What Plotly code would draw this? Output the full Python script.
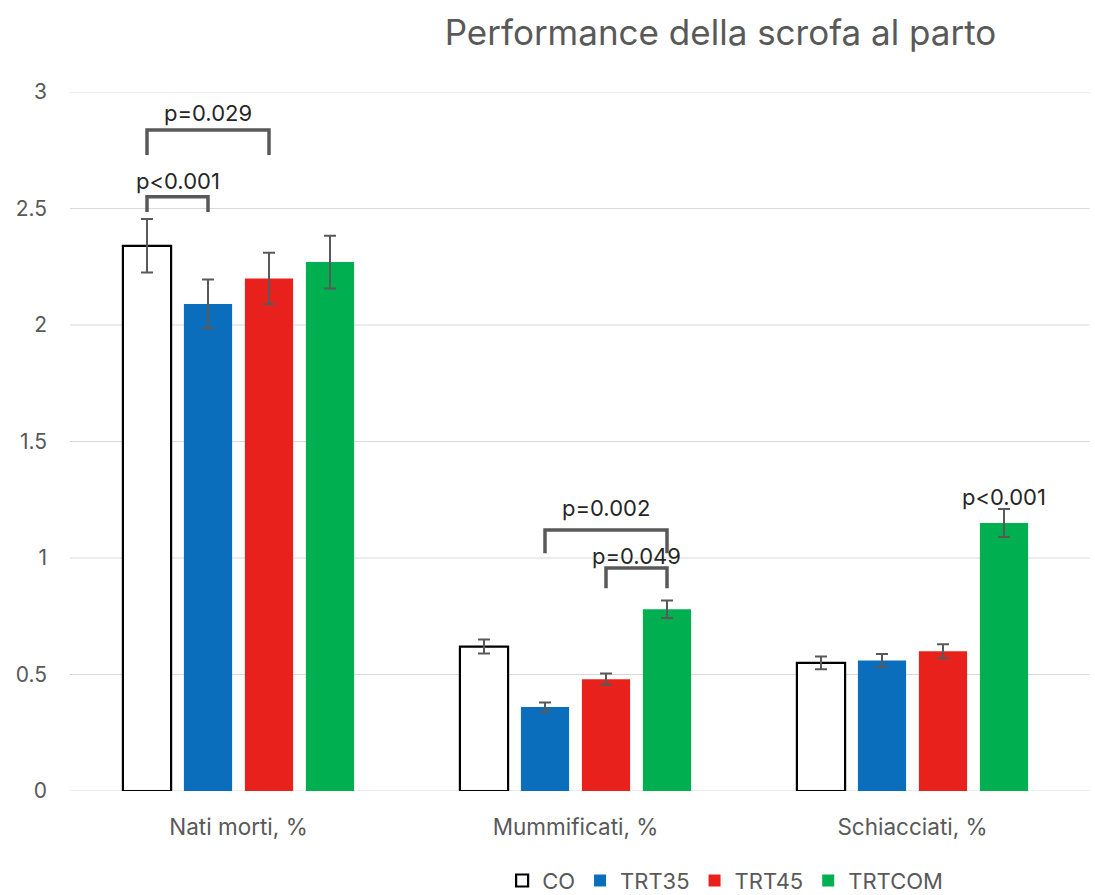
import plotly.graph_objects as go

# Categories and series
categories = ["Nati morti, %", "Mummificati, %", "Schiacciati, %"]
series_names = ["CO", "TRT35", "TRT45", "TRTCOM"]
co_values = [2.34, 0.62, 0.55]
trt35_values = [2.09, 0.36, 0.56]
trt45_values = [2.20, 0.48, 0.60]
trtcom_values = [2.27, 0.78, 1.15]

co_err = [0.115, 0.03, 0.027]
trt35_err = [0.105, 0.02, 0.028]
trt45_err = [0.11, 0.024, 0.03]
trtcom_err = [0.113, 0.038, 0.06]

y_ticks = [0, 0.5, 1, 1.5, 2, 2.5, 3]
y_ticktext = ["0", "0.5", "1", "1.5", "2", "2.5", "3"]

# Significance brackets: (category index, series a, series b, bracket top, leg bottom, label, label y)
brackets = [
    (0, 0, 2, 2.837, 2.73, "p=0.029", 2.91),
    (0, 0, 1, 2.55, 2.485, "p<0.001", 2.62),
    (1, 1, 3, 1.12, 1.02, "p=0.002", 1.215),
    (1, 2, 3, 0.957, 0.87, "p=0.049", 1.01),
]
# Single-bar annotation: (category index, series, label, label y)
single_labels = [(2, 3, "p<0.001", 1.26)]

values = [co_values, trt35_values, trt45_values, trtcom_values]
errors = [co_err, trt35_err, trt45_err, trtcom_err]
fills = ["#FFFFFF", "#0A6EBD", "#E8211C", "#00B050"]
outlines = ["#000000", "#0A6EBD", "#E8211C", "#00B050"]
outline_w = [2.2, 0, 0, 0]

BARGAP = 0.276
BARGROUPGAP = 0.21
ERR_COLOR = "#595959"
GRID_COLOR = "#d9d9d9"
FONT = "Inter, Noto Sans, sans-serif"

x_idx = list(range(len(categories)))

fig = go.Figure()
for name, vals, err, fc, lc, lw in zip(series_names, values, errors, fills, outlines, outline_w):
    fig.add_trace(go.Bar(
        name=name, x=x_idx, y=vals,
        marker=dict(color=fc, line=dict(color=lc, width=lw)),
        error_y=dict(type="data", array=err, visible=True,
                     color=ERR_COLOR, thickness=2, width=6),
    ))


def bar_center(cat, series):
    slot = (1 - BARGAP) / len(series_names)
    return cat - (1 - BARGAP) / 2 + (series + 0.5) * slot


# Horizontal gridlines running slightly past the plotting area on the right
for yv in y_ticks:
    fig.add_shape(type="line", xref="paper", yref="y", x0=0, x1=1.0085, y0=yv, y1=yv,
                  line=dict(color=GRID_COLOR, width=1), layer="below")

for cat, a, b, top, low, label, ly in brackets:
    xa, xb = bar_center(cat, a), bar_center(cat, b)
    fig.add_shape(type="path",
                  path=f"M {xa},{low} L {xa},{top} L {xb},{top} L {xb},{low}",
                  line=dict(color=ERR_COLOR, width=3.5), xref="x", yref="y")
    fig.add_annotation(x=(xa + xb) / 2, y=ly, text=label, showarrow=False,
                       font=dict(size=22, color="#262626", family=FONT),
                       xref="x", yref="y")

for cat, s, label, ly in single_labels:
    fig.add_annotation(x=bar_center(cat, s), y=ly, text=label, showarrow=False,
                       font=dict(size=22, color="#262626", family=FONT),
                       xref="x", yref="y")

fig.update_layout(
    width=1095, height=895,
    paper_bgcolor="white", plot_bgcolor="white",
    margin=dict(l=70, r=14, t=92, b=104, autoexpand=False),
    barmode="group", bargap=BARGAP, bargroupgap=BARGROUPGAP,
    title=dict(text="Performance della scrofa al parto", x=0.658, xanchor="center",
               y=0.963, yanchor="middle",
               font=dict(size=35, color="#595959", family=FONT)),
    font=dict(family=FONT),
    showlegend=True,
    legend=dict(orientation="h", x=0.648, xanchor="center",
                yref="container", y=0.016, yanchor="middle",
                font=dict(size=22, color="#595959", family=FONT),
                itemwidth=30, traceorder="normal"),
    xaxis=dict(range=[-0.5, 2.5], tickvals=x_idx, ticktext=categories,
               showgrid=False, zeroline=False, showline=False, ticks="",
               ticklabelstandoff=20,
               tickfont=dict(size=22.5, color="#595959", family=FONT)),
    yaxis=dict(range=[0, 3], tickvals=y_ticks, ticktext=y_ticktext,
               showgrid=False, zeroline=False, showline=False, ticks="",
               ticklabelstandoff=22,
               tickfont=dict(size=21, color="#595959", family=FONT)),
)

fig.write_html("out.html")
